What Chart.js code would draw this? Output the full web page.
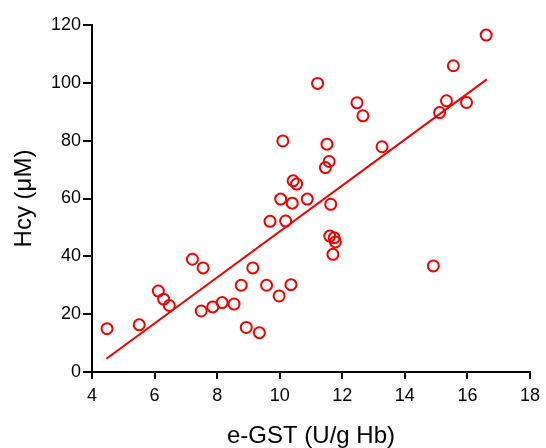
<!DOCTYPE html>
<html>
<head>
<meta charset="utf-8">
<script src="https://cdn.jsdelivr.net/npm/chart.js@4"></script>
<style>
  html, body { margin: 0; padding: 0; background: #fff; }
  #wrap { width: 546px; height: 448px; }
</style>
</head>
<body>
<div id="wrap"><canvas id="scatter"></canvas></div>
<script>
// e-GST vs Hcy
const gstValues = [
  4.48, 5.51, 6.12, 6.29, 6.47,
  7.21, 7.55, 9.14, 8.77, 9.58, 9.98, 10.36, 7.49, 7.86, 8.16, 8.54, 8.93, 9.35,
  10.10, 11.51, 11.58, 11.46, 10.43, 10.54, 10.03, 10.40, 10.88, 11.63, 9.69, 10.19,
  11.60, 11.74, 11.78, 11.70,
  11.21, 12.47, 12.66, 13.27, 15.11, 15.33, 15.55, 15.97, 16.60, 14.91
];
const hcyValues = [
  15.0, 16.3, 28.0, 25.2, 23.0,
  39.0, 36.0, 36.0, 30.0, 30.0, 26.3, 30.2, 21.1, 22.5, 24.0, 23.5, 15.4, 13.6,
  79.9, 78.8, 72.8, 70.7, 66.1, 65.0, 59.8, 58.4, 59.8, 58.0, 52.1, 52.2,
  47.0, 46.4, 45.0, 40.7,
  99.8, 93.1, 88.6, 77.9, 89.7, 93.8, 105.9, 93.2, 116.5, 36.7
];

// regression line end points as drawn in the figure
const fitX = [4.46, 16.62];
const fitY = [4.6, 101.2];

const xTicks = [4, 6, 8, 10, 12, 14, 16, 18];
const yTicks = [0, 20, 40, 60, 80, 100, 120];

const RED = '#f00000';
const FONT = 'Liberation Sans, Arial, sans-serif';

const toPoints = (xs, ys) => xs.map((x, i) => ({ x, y: ys[i] }));

const axisBase = (ticks, tickLength) => ({
  type: 'linear',
  min: ticks[0],
  max: ticks[ticks.length - 1],
  grid: { drawOnChartArea: false, drawTicks: true, tickLength, color: '#000', lineWidth: 2 },
  border: { display: true, color: '#000', width: 2 },
  afterBuildTicks: (scale) => { scale.ticks = ticks.map(v => ({ value: v })); }
});

new Chart(document.getElementById('scatter'), {
  type: 'scatter',
  data: {
    datasets: [
      {
        label: 'Hcy',
        data: toPoints(gstValues, hcyValues),
        pointStyle: 'circle',
        pointRadius: 5.5,
        pointBorderWidth: 2,
        pointBackgroundColor: 'rgba(0,0,0,0)',
        pointBorderColor: RED,
        order: 1
      },
      {
        label: 'fit',
        type: 'line',
        data: toPoints(fitX, fitY),
        borderColor: RED,
        borderWidth: 2,
        pointRadius: 0,
        fill: false,
        order: 2
      }
    ]
  },
  options: {
    responsive: true,
    maintainAspectRatio: false,
    animation: false,
    layout: { padding: { top: 25, right: 13, left: 0, bottom: 0 } },
    plugins: { legend: { display: false }, tooltip: { enabled: false } },
    scales: {
      x: {
        ...axisBase(xTicks, 7),
        ticks: { color: '#000', padding: 6, font: { family: FONT, size: 18 } },
        title: {
          display: true,
          text: 'e-GST (U/g Hb)',
          color: '#000',
          font: { family: FONT, size: 24, lineHeight: 1 },
          padding: { top: 0, bottom: 0 }
        },
        afterFit: (scale) => { scale.height = 76; }
      },
      y: {
        ...axisBase(yTicks, 9),
        ticks: { color: '#000', padding: 2, font: { family: FONT, size: 18 } },
        title: {
          display: true,
          text: 'Hcy (\u03bcM)',
          color: '#000',
          font: { family: FONT, size: 24, lineHeight: 1 },
          padding: { top: 12, bottom: 0 }
        },
        afterFit: (scale) => { scale.width = 92; }
      }
    }
  }
});
</script>
</body>
</html>
